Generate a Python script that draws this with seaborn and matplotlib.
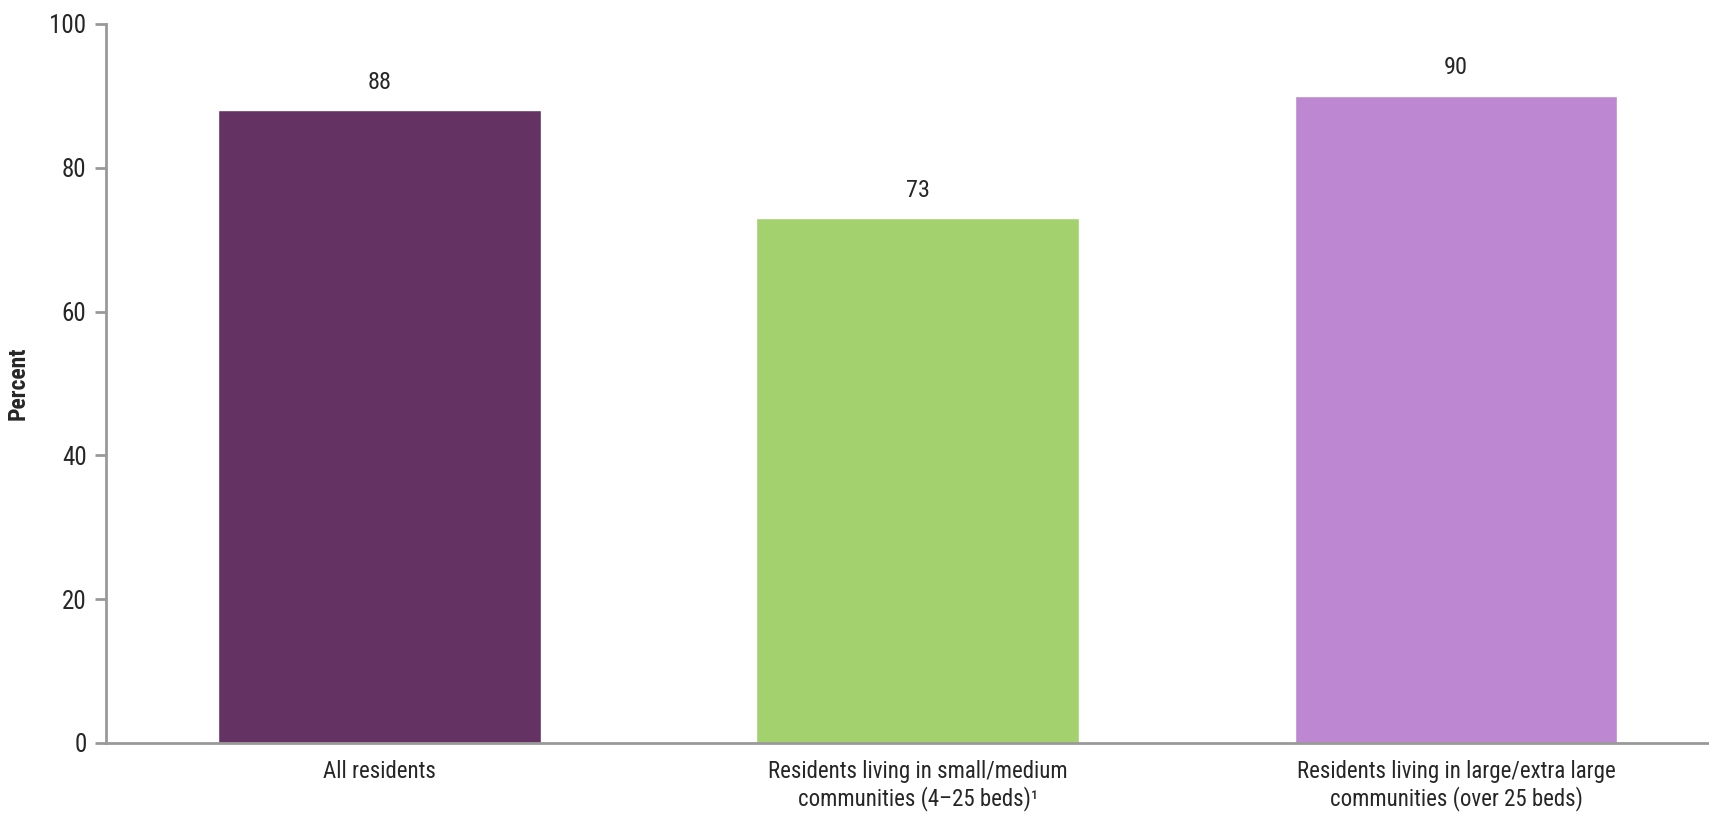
import matplotlib
matplotlib.use('Agg')
import matplotlib.pyplot as plt
import seaborn as sns
import pandas as pd

# ─── Data ─────────────────────────────────────────────────────────────────────
categories = ['All residents',
              'Residents living in small/medium\ncommunities (4\u201325 beds)\u00b9',
              'Residents living in large/extra large\ncommunities (over 25 beds)']
values = [88, 73, 90]
bar_colors = ['#643263', '#a3d16e', '#bd88d1']
y_ticks = [0, 20, 40, 60, 80, 100]

df = pd.DataFrame({'group': categories, 'pct': values})

sns.set_style('white')
plt.rcParams['font.family'] = ['Roboto Condensed', 'Liberation Sans Narrow',
                               'Roboto', 'DejaVu Sans']

fig = plt.figure(figsize=(17.09, 8.19), dpi=100)
ax = fig.add_axes([0.062, 0.0928, 0.938, 0.878])

sns.barplot(data=df, x='group', y='pct', hue='group', palette=bar_colors,
            width=0.6, legend=False, ax=ax, saturation=1)

# value labels above bars
for i, v in enumerate(values):
    ax.text(i, v + 2.3, f'{v}', ha='center', va='bottom', fontsize=17.5)

ax.set_ylim(0, 100)
ax.set_xlim(-0.508, 2.47)
ax.set_yticks(y_ticks)
ax.set_yticklabels([str(t) for t in y_ticks], fontsize=18)
ax.tick_params(axis='y', which='major', length=8, width=2, color='#999999',
               direction='out', left=True, pad=6)
ax.tick_params(axis='x', length=0, pad=12, labelsize=16.5)
ax.set_xlabel('')
ax.set_ylabel('Percent', fontsize=17, fontweight='bold', labelpad=14)

for side in ['top', 'right']:
    ax.spines[side].set_visible(False)
for side in ['left', 'bottom']:
    ax.spines[side].set_color('#999999')
    ax.spines[side].set_linewidth(2)

fig.savefig('out.png', dpi=100)
